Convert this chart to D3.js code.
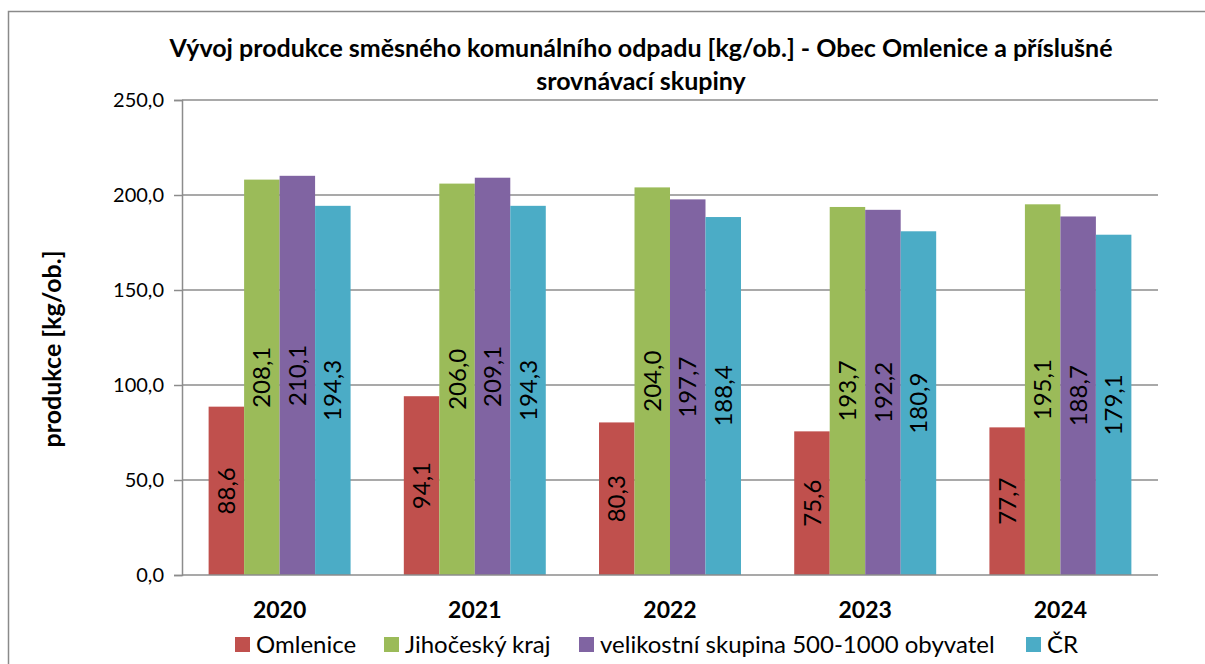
<html>
  <head>
    <meta charset="utf-8">
    <title>Vývoj produkce směsného komunálního odpadu</title>
    <script src="https://d3js.org/d3.v7.min.js" charset="utf-8"></script>
    <style>
      body { margin: 0; background: #fff; }
      text { font-family: Lato, "Liberation Sans", sans-serif; fill: #000; }
    </style>
  </head>
  <body>
    <script>
      // data
      var years = ["2020", "2021", "2022", "2023", "2024"];
      var seriesNames = ["Omlenice", "Jihočeský kraj", "velikostní skupina 500-1000 obyvatel", "ČR"];
      var seriesColors = ["#C0504D", "#9BBB59", "#8064A2", "#4BACC6"];
      var omlenice = [88.6, 94.1, 80.3, 75.6, 77.7];
      var jihocesky = [208.1, 206.0, 204.0, 193.7, 195.1];
      var velikostni = [210.1, 209.1, 197.7, 192.2, 188.7];
      var cr = [194.3, 194.3, 188.4, 180.9, 179.1];
      var yTicks = [0, 50, 100, 150, 200, 250];

      var seriesValues = [omlenice, jihocesky, velikostni, cr];

      var width = 1205,
          height = 664;

      var fmt = function(v) { return d3.format(".1f")(v).replace(".", ","); };

      var svg = d3.select("body").append("svg")
        .attr("width", width)
        .attr("height", height);

      // chart frame (runs off the right and bottom edge)
      svg.append("rect")
        .attr("x", 8.5).attr("y", 11.5)
        .attr("width", 1300).attr("height", 800)
        .attr("fill", "none")
        .attr("stroke", "#8a8a8a")
        .attr("stroke-width", 1.5);

      var x0 = d3.scaleBand()
        .domain(years)
        .range([182, 1158]);

      var x1 = d3.scaleBand()
        .domain(d3.range(seriesNames.length))
        .range([0, x0.bandwidth()])
        .paddingInner(0)
        .paddingOuter(0.75);

      var y = d3.scaleLinear()
        .domain([0, 250])
        .range([575, 100]);

      // gridlines
      svg.append("g")
        .selectAll("line")
        .data(yTicks.slice(1))
        .enter()
        .append("line")
        .attr("x1", 182).attr("x2", 1158)
        .attr("y1", function(d) { return y(d); })
        .attr("y2", function(d) { return y(d); })
        .attr("stroke", "#8c8c8c")
        .attr("stroke-width", 1.5);

      // y axis
      var yAxis = svg.append("g")
        .attr("transform", "translate(182,0)")
        .call(d3.axisLeft(y).tickValues(yTicks).tickFormat(fmt).tickSize(8).tickPadding(10));
      yAxis.select(".domain").attr("stroke", "#8c8c8c").attr("stroke-width", 1.5);
      yAxis.selectAll(".tick line").attr("stroke", "#8c8c8c").attr("stroke-width", 1.5);
      yAxis.selectAll(".tick text")
        .style("font-size", "20px")
        .style("fill", "#000");

      // bars
      var groups = svg.append("g")
        .selectAll("g")
        .data(years)
        .enter()
        .append("g")
        .attr("transform", function(d) { return "translate(" + x0(d) + ",0)"; });

      groups.selectAll("rect")
        .data(function(d, i) {
          return seriesValues.map(function(s, k) { return { k: k, v: s[i] }; });
        })
        .enter()
        .append("rect")
        .attr("x", function(d) { return x1(d.k); })
        .attr("width", x1.bandwidth())
        .attr("y", function(d) { return y(d.v); })
        .attr("height", function(d) { return y(0) - y(d.v); })
        .attr("fill", function(d) { return seriesColors[d.k]; });

      // value labels, rotated, centred in each bar
      groups.selectAll("text.val")
        .data(function(d, i) {
          return seriesValues.map(function(s, k) { return { k: k, v: s[i] }; });
        })
        .enter()
        .append("text")
        .attr("class", "val")
        .attr("transform", function(d) {
          var cx = x1(d.k) + x1.bandwidth() / 2;
          var cy = (y(d.v) + y(0)) / 2;
          return "translate(" + cx + "," + cy + ") rotate(-90)";
        })
        .attr("text-anchor", "middle")
        .attr("dy", "0.36em")
        .style("font-size", "24px")
        .text(function(d) { return fmt(d.v); });

      // x axis baseline
      svg.append("line")
        .attr("x1", 182).attr("x2", 1158)
        .attr("y1", y(0)).attr("y2", y(0))
        .attr("stroke", "#8c8c8c")
        .attr("stroke-width", 1.5);

      // category labels
      svg.append("g")
        .selectAll("text")
        .data(years)
        .enter()
        .append("text")
        .attr("x", function(d) { return x0(d) + x0.bandwidth() / 2; })
        .attr("y", 618)
        .attr("text-anchor", "middle")
        .style("font-size", "23px")
        .style("font-weight", "bold")
        .text(function(d) { return d; });

      // title
      var title = svg.append("text")
        .attr("x", 641)
        .attr("text-anchor", "middle")
        .style("font-size", "25px")
        .style("font-weight", "bold");
      title.append("tspan").attr("x", 641).attr("y", 57)
        .text("Vývoj produkce směsného komunálního odpadu [kg/ob.] - Obec Omlenice a příslušné");
      title.append("tspan").attr("x", 641).attr("y", 90)
        .text("srovnávací skupiny");

      // y axis title
      svg.append("text")
        .attr("transform", "translate(61,349) rotate(-90)")
        .attr("text-anchor", "middle")
        .style("font-size", "25px")
        .style("font-weight", "bold")
        .text("produkce [kg/ob.]");

      // legend
      var legendX = [235, 384, 579, 1026];
      var legend = svg.append("g")
        .selectAll("g")
        .data(seriesNames)
        .enter()
        .append("g")
        .attr("transform", function(d, i) { return "translate(" + legendX[i] + ",637)"; });
      legend.append("rect")
        .attr("width", 15).attr("height", 15)
        .attr("fill", function(d, i) { return seriesColors[i]; });
      legend.append("text")
        .attr("x", 21)
        .attr("y", 16)
        .style("font-size", "24px")
        .text(function(d) { return d; });
    </script>
  </body>
</html>
